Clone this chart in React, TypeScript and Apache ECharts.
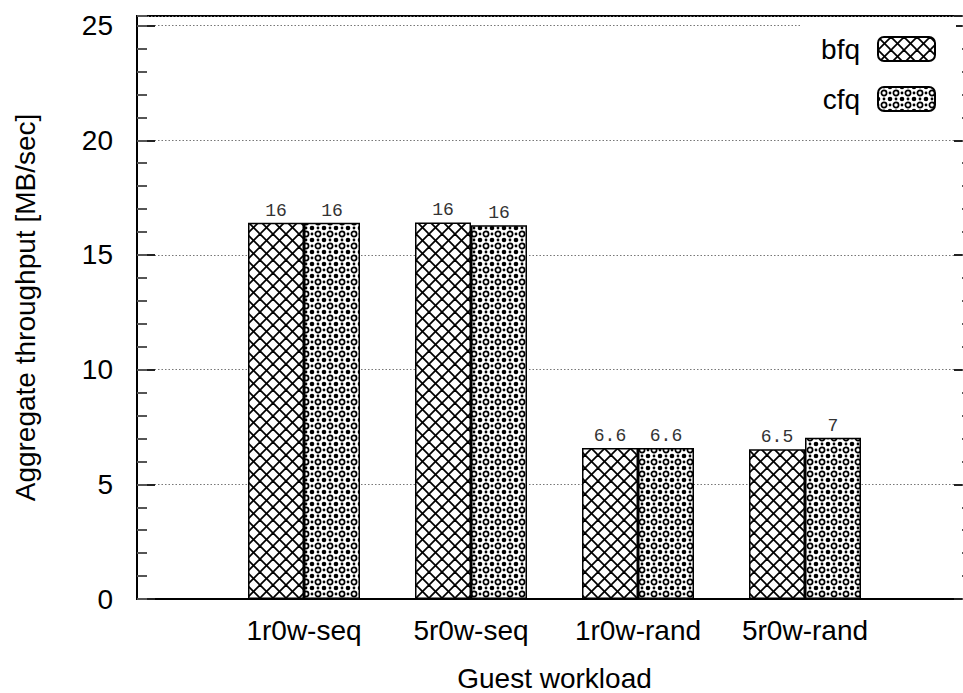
import React, { useEffect, useRef } from "react";
import * as echarts from "echarts";

const categories = ["1r0w-seq", "5r0w-seq", "1r0w-rand", "5r0w-rand"];
const bfqValues = [16.4, 16.42, 6.58, 6.53];
const cfqValues = [16.4, 16.3, 6.58, 7.03];
const yMajorTicks = [0, 5, 10, 15, 20, 25];
const seriesNames = ["bfq", "cfq"];

function makeCrossPattern() {
  const s = 13;
  const c = document.createElement("canvas");
  c.width = s;
  c.height = s;
  const g = c.getContext("2d")!;
  g.fillStyle = "#fff";
  g.fillRect(0, 0, s, s);
  g.strokeStyle = "#000";
  g.lineWidth = 1.8;
  for (const off of [-s, 0, s]) {
    g.beginPath();
    g.moveTo(off - 1, -1);
    g.lineTo(off + s + 1, s + 1);
    g.stroke();
    g.beginPath();
    g.moveTo(off + s + 1, -1);
    g.lineTo(off - 1, s + 1);
    g.stroke();
  }
  return { canvas: c, size: s };
}

function makeDotPattern() {
  const s = 12;
  const c = document.createElement("canvas");
  c.width = s;
  c.height = s;
  const g = c.getContext("2d")!;
  g.fillStyle = "#fff";
  g.fillRect(0, 0, s, s);
  g.strokeStyle = "#000";
  g.fillStyle = "#000";
  g.lineWidth = 1.7;
  g.beginPath();
  g.arc(6, 6, 2.6, 0, Math.PI * 2);
  g.stroke();
  for (const [x, y] of [[0, 0], [s, 0], [0, s], [s, s]]) {
    g.beginPath();
    g.arc(x, y, 2.3, 0, Math.PI * 2);
    g.fill();
  }
  for (const [x, y] of [[6, 0], [0, 6], [s, 6], [6, s]]) {
    g.beginPath();
    g.arc(x, y, 1.4, 0, Math.PI * 2);
    g.fill();
  }
  return { canvas: c, size: s };
}

export default function App() {
  const ref = useRef<HTMLDivElement>(null);
  useEffect(() => {
    if (!ref.current) return;
    const chart = echarts.init(ref.current, null, { renderer: "svg" });
    const cross = makeCrossPattern();
    const dots = makeDotPattern();
    const patterns = [
      { image: cross.canvas, repeat: "repeat", imageWidth: cross.size, imageHeight: cross.size },
      { image: dots.canvas, repeat: "repeat", imageWidth: dots.size, imageHeight: dots.size },
    ];
    const xData = ["", ...categories, ""];
    const font = "Liberation Sans";
    const yMax = 25.42;
    const labelFmt = (p: any) =>
      typeof p.value === "number" ? String(Number(p.value.toPrecision(2))) : "";
    const yBase = {
      type: "value",
      min: 0,
      max: yMax,
      axisLine: { show: false },
      axisLabel: { show: false },
      splitLine: { show: false },
    };
    const option: any = {
      animation: false,
      backgroundColor: "#fff",
      grid: {
        left: 137,
        top: 16,
        right: -9,
        bottom: 94,
        show: true,
        borderColor: "#000",
        borderWidth: 2,
        backgroundColor: "transparent",
        containLabel: false,
        outerBoundsMode: "none",
      },
      legend: {
        data: seriesNames,
        orient: "vertical",
        right: 7,
        top: 23,
        align: "right",
        itemWidth: 57,
        itemHeight: 24,
        itemGap: 22,
        padding: [12, 20, 8, 20],
        backgroundColor: "#fff",
        textStyle: {
          fontFamily: font,
          fontSize: 28,
          color: "#000",
          padding: [0, 13, 0, 0],
        },
      },
      xAxis: {
        type: "category",
        data: xData,
        boundaryGap: false,
        axisLine: { show: true, lineStyle: { color: "#000", width: 2 } },
        axisTick: { show: false },
        axisLabel: {
          fontFamily: font,
          fontSize: 28,
          color: "#000",
          margin: 17,
          interval: 0,
        },
        splitLine: { show: false },
        name: "Guest workload",
        nameLocation: "middle",
        nameGap: 65,
        nameTextStyle: { fontFamily: font, fontSize: 28, color: "#000" },
      },
      yAxis: [
        {
          type: "value",
          min: 0,
          max: yMax,
          interval: 5,
          position: "left",
          axisLine: { show: true, lineStyle: { color: "#000", width: 2 } },
          axisTick: { show: true, inside: true, length: 18, lineStyle: { color: "#222", width: 2 } },
          axisLabel: {
            showMaxLabel: false,
            fontFamily: font,
            fontSize: 28,
            color: "#000",
            margin: 24,
            formatter: (v: number) => (yMajorTicks.includes(v) ? String(v) : ""),
          },
          splitLine: {
            show: true,
            lineStyle: { color: "#777", width: 1.2, type: [1.5, 2] },
          },
          name: "Aggregate throughput [MB/sec]",
          nameLocation: "middle",
          nameGap: 98,
          nameTextStyle: { fontFamily: font, fontSize: 28, color: "#000" },
        },
        {
          ...yBase,
          interval: 1,
          position: "left",
          axisTick: { show: true, inside: true, length: 10, lineStyle: { color: "#555", width: 2 } },
        },
        {
          ...yBase,
          interval: 5,
          position: "right",
          axisTick: { show: true, inside: true, length: 18, lineStyle: { color: "#222", width: 2 } },
        },
        {
          ...yBase,
          interval: 1,
          position: "right",
          axisTick: { show: true, inside: true, length: 10, lineStyle: { color: "#555", width: 2 } },
        },
      ],
      series: [bfqValues, cfqValues].map((vals, i) => ({
        name: seriesNames[i],
        type: "bar",
        yAxisIndex: 0,
        data: ["-", ...vals, "-"],
        barWidth: 56,
        barGap: "0%",
        itemStyle: {
          color: patterns[i],
          borderColor: "#000",
          borderWidth: 1.5,
        },
        label: {
          show: true,
          position: "top",
          distance: 3,
          fontFamily: "Liberation Mono",
          fontSize: 18,
          color: "#333",
          formatter: labelFmt,
        },
      })),
    };
    chart.setOption(option);
    return () => chart.dispose();
  }, []);
  return (
    <div
      ref={ref}
      style={{ position: "fixed", left: 0, top: 0, width: 963, height: 693 }}
    />
  );
}
